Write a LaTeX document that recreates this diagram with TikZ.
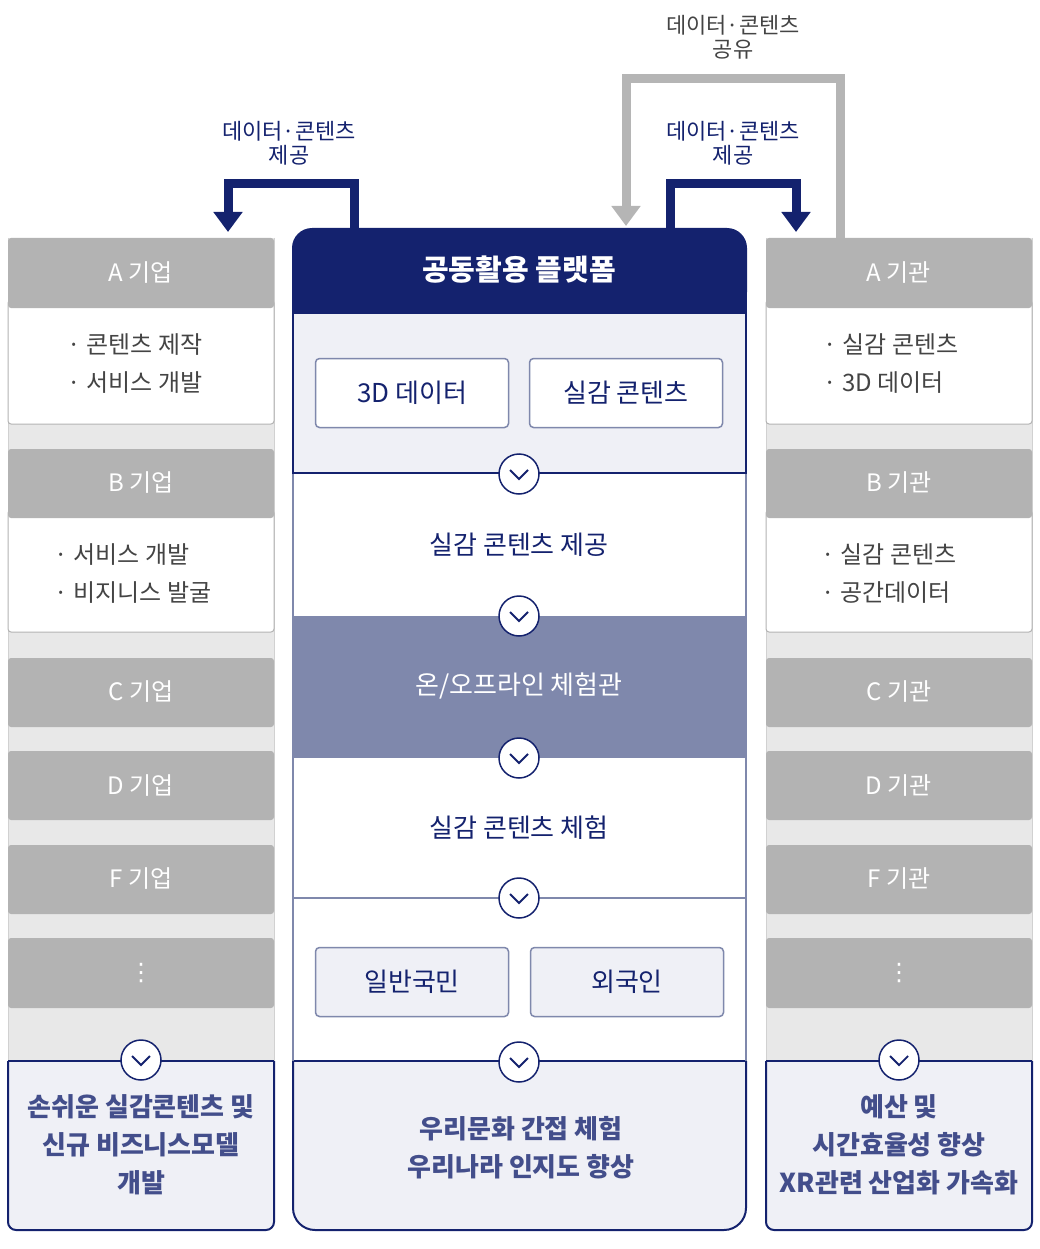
\documentclass[tikz,border=0pt]{standalone}
\usepackage{fontspec}
\setmainfont{Noto Sans CJK KR}
\newfontfamily\symfont{DejaVu Sans}
\usetikzlibrary{arrows.meta}
\definecolor{navy}{HTML}{14226E}
\definecolor{hdr}{HTML}{B3B3B3}
\definecolor{colbg}{HTML}{E8E8E8}
\definecolor{lav}{HTML}{EFF0F6}
\definecolor{purp}{HTML}{7F88AC}
\definecolor{lline}{HTML}{7F88AC}
\definecolor{gtxt}{HTML}{444444}
\definecolor{arrg}{HTML}{B5B5B5}
\begin{document}
\begin{tikzpicture}[x=1pt,y=-1pt,
  hdrbox/.style={fill=hdr,rounded corners=3pt},
  whitebox/.style={fill=white,draw=hdr,line width=1pt,rounded corners=3pt},
  hdrtxt/.style={text=white,font=\fontsize{24}{28}\selectfont},
  itemtxt/.style={text=gtxt,font=\fontsize{24}{38}\selectfont,align=left},
  inbox/.style={draw=lline,line width=1.5pt,rounded corners=4pt,minimum width=193pt,minimum height=69pt,text=navy,font=\fontsize{26}{30}\selectfont},
  midtxt/.style={text=navy,font=\fontsize{26}{30}\selectfont},
  boldtxt/.style={text=navy!80!white,font=\fontsize{26}{38}\selectfont\bfseries,align=center},
  chev/.style={circle,draw=navy,fill=white,line width=1.5pt,minimum size=40pt,inner sep=0pt},
  arrn/.style={line width=9pt,draw=navy,-{Triangle[width=28pt,length=20pt]}},
  arrgr/.style={line width=9pt,draw=arrg,-{Triangle[width=28pt,length=20pt]}},
  lbl/.style={align=center,font=\fontsize{22}{24}\selectfont}]
\useasboundingbox (0,0) rectangle (1040,1249);
% columns
\foreach \x/\nm in {8/left,766/right}{
  \fill[colbg] (\x,238) rectangle (\x+266,1062);
  \draw[hdr!60!white,line width=1pt] (\x,238) -- (\x,1062) (\x+266,238) -- (\x+266,1062);
  \draw[whitebox] (\x,300) rectangle (\x+266,424);
  \fill[hdrbox] (\x,238) rectangle (\x+266,308);
  \draw[whitebox] (\x,510) rectangle (\x+266,632);
  \fill[hdrbox] (\x,449) rectangle (\x+266,518);
  \fill[hdrbox] (\x,658) rectangle (\x+266,727);
  \fill[hdrbox] (\x,751) rectangle (\x+266,820);
  \fill[hdrbox] (\x,845) rectangle (\x+266,914);
  \fill[hdrbox] (\x,938) rectangle (\x+266,1008);
  \draw[navy,fill=lav,line width=2pt,rounded corners=8pt] (\x,1061) -- (\x,1230) -- (\x+266,1230) -- (\x+266,1061);
  \draw[navy,line width=2pt] (\x,1061) -- (\x+266,1061);
}
\node[hdrtxt] (la) at (141,273) {A 기업};
\node[itemtxt] (lai) at (135,364) {· 콘텐츠 제작\\· 서비스 개발};
\node[hdrtxt] (lb) at (141,483) {B 기업};
\node[itemtxt] (lbi) at (133,574) {· 서비스 개발\\· 비지니스 발굴};
\node[hdrtxt] (lc) at (141,692) {C 기업};
\node[hdrtxt] (ld) at (141,786) {D 기업};
\node[hdrtxt] (lf) at (141,879) {F 기업};
\node[hdrtxt,font=\symfont\fontsize{24}{28}\selectfont] (ldots) at (141,973) {⋮};
\node[boldtxt] (lres) at (141,1145) {손쉬운 실감콘텐츠 및\\신규 비즈니스모델\\개발};
\node[hdrtxt] (ra) at (899,273) {A 기관};
\node[itemtxt] (rai) at (891,364) {· 실감 콘텐츠\\· 3D 데이터};
\node[hdrtxt] (rb) at (899,483) {B 기관};
\node[itemtxt] (rbi) at (889,574) {· 실감 콘텐츠\\· 공간데이터};
\node[hdrtxt] (rc) at (899,692) {C 기관};
\node[hdrtxt] (rd) at (899,786) {D 기관};
\node[hdrtxt] (rf) at (899,879) {F 기관};
\node[hdrtxt,font=\symfont\fontsize{24}{28}\selectfont] (rdots) at (899,973) {⋮};
\node[boldtxt] (rres) at (899,1145) {예산 및\\시간효율성 향상\\XR관련 산업화 가속화};
% center
\fill[white] (293,312) rectangle (746,1062);
\fill[lav] (293,312) rectangle (746,473);
\fill[purp] (293,616) rectangle (746,758);
\draw[navy,fill=lav,line width=2pt,rounded corners=22pt] (293,1061) -- (293,1230) -- (746,1230) -- (746,1061);
\draw[navy,line width=2pt] (293,1061) -- (746,1061);
\draw[lline,line width=1.5pt] (293,473) -- (293,1061) (746,473) -- (746,1061);
\draw[lline,line width=1.5pt] (293,898) -- (746,898);
\draw[navy,line width=2.5pt] (293,312) rectangle (746,473);
\fill[navy,rounded corners=20pt] (292,312) -- (292,228) -- (747,228) -- (747,312) -- cycle;
\fill[navy] (292,290) rectangle (747,314);
\node[text=white,font=\fontsize{29}{32}\selectfont\bfseries] (plat) at (519,270) {공동활용 플랫폼};
\node[inbox,fill=white] (d3) at (412,393) {3D 데이터};
\node[inbox,fill=white] (real) at (626,393) {실감 콘텐츠};
\node[midtxt] (m1) at (519,545) {실감 콘텐츠 제공};
\node[midtxt,text=white] (m2) at (519,686) {온/오프라인 체험관};
\node[midtxt] (m3) at (519,828) {실감 콘텐츠 체험};
\node[inbox,fill=lav] (p1) at (412,982) {일반국민};
\node[inbox,fill=lav] (p2) at (627,982) {외국인};
\node[boldtxt] (cres) at (521,1148) {우리문화 간접 체험\\우리나라 인지도 향상};
% chevrons
\foreach \n/\x/\y in {c1/519/474,c2/519/616,c3/519/758,c4/519/898,c5/519/1062,c6/141/1060,c7/899/1060}{
  \node[chev] (\n) at (\x,\y) {};
  \draw[navy,line width=1.8pt] (\x-9,\y-4) -- (\x,\y+5) -- (\x+9,\y-4);
}
% arrows
\coordinate (lt) at (228,232);
\coordinate (rt) at (796,232);
\coordinate (gt) at (626,226);
\draw[arrn] (354,228) |- (228,184) -- (lt);
\draw[arrn] (670,228) |- (796,184) -- (rt);
\draw[arrgr] (840,238) |- (626,79) -- (gt);
\node[lbl,text=navy] (t1) at (289,143) {데이터·콘텐츠\\제공};
\node[lbl,text=navy] (t2) at (733,143) {데이터·콘텐츠\\제공};
\node[lbl,text=gtxt] (t3) at (733,37) {데이터·콘텐츠\\공유};
\end{tikzpicture}
\end{document}
